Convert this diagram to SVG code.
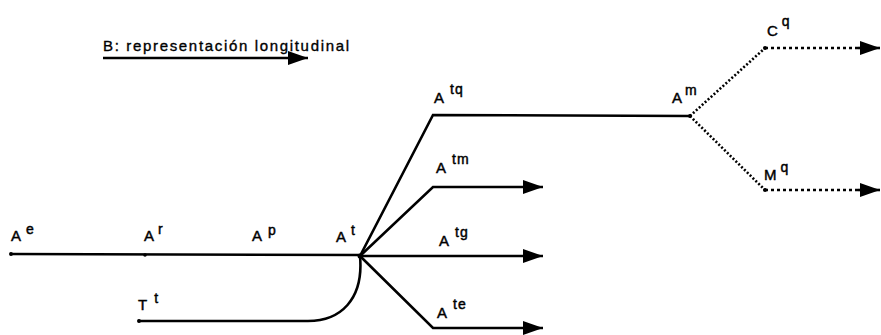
<svg xmlns="http://www.w3.org/2000/svg" width="881" height="335" viewBox="0 0 881 335">
<style>
.lbl{font-family:"Liberation Sans",Arial,sans-serif;font-size:15px;fill:#000;stroke:#000;stroke-width:0.45;}
.sup{font-size:14px;letter-spacing:1px;}
.ttl{font-size:15px;stroke-width:0.35;}
.ln{fill:none;stroke:#000;stroke-width:2.6;stroke-linejoin:miter;}
.dot{fill:none;stroke:#000;stroke-width:2.6;stroke-dasharray:2 2;}
.dash{fill:none;stroke:#000;stroke-width:2.4;stroke-dasharray:3 3;}
.hd{fill:#000;}
.pt{fill:#000;}
</style>
<defs>
<marker id="arr" markerWidth="20" markerHeight="14" refX="20" refY="7" orient="auto" markerUnits="userSpaceOnUse">
<path d="M0,0 L20,7 L0,14 Z" class="hd"/>
</marker>
</defs>
<rect width="881" height="335" fill="#fff"/>
<g id="title">
<text class="lbl ttl" x="103" y="51" textLength="246" lengthAdjust="spacing">B: representación longitudinal</text>
<line x1="103" y1="58" x2="308" y2="58" class="ln" marker-end="url(#arr)"/>
</g>
<g id="connectors">
<line x1="10" y1="254" x2="360" y2="255" class="ln"/>
<path d="M138,321 L308,321 C340,321 364,300 360,256" class="ln"/>
<path d="M360,256 L433,115 L690,116" class="ln"/>
<path d="M360,256 L433,187 L543,187" class="ln" marker-end="url(#arr)"/>
<line x1="360" y1="256" x2="543" y2="256" class="ln" marker-end="url(#arr)"/>
<path d="M360,256 L433,328 L543,328" class="ln" marker-end="url(#arr)"/>
<path d="M690,116 L765,48" class="dot"/>
<path d="M690,116 L765,190" class="dot"/>
<path d="M765,48 L862,48" class="dash"/>
<line x1="858" y1="48" x2="880" y2="48" class="ln" marker-end="url(#arr)"/>
<path d="M765,190 L862,190" class="dash"/>
<line x1="858" y1="190" x2="880" y2="190" class="ln" marker-end="url(#arr)"/>
</g>
<g id="Ae"><circle class="pt" cx="11" cy="254" r="2"/><text class="lbl" x="11" y="241">A<tspan class="sup" dx="5" dy="-7">e</tspan></text></g>
<g id="Ar"><circle class="pt" cx="145" cy="255" r="1.8"/><text class="lbl" x="144" y="241">A<tspan class="sup" dx="4" dy="-7">r</tspan></text></g>
<g id="Ap"><text class="lbl" x="252" y="241">A<tspan class="sup" dx="6" dy="-6">p</tspan></text></g>
<g id="At"><circle class="pt" cx="360" cy="256" r="2.5"/><text class="lbl" x="336" y="242">A<tspan class="sup" dx="5" dy="-7">t</tspan></text></g>
<g id="Tt"><circle class="pt" cx="139" cy="321" r="2"/><text class="lbl" x="138" y="310">T<tspan class="sup" dx="7" dy="-7">t</tspan></text></g>
<g id="Atq"><text class="lbl" x="434" y="103">A<tspan class="sup" dx="6" dy="-9">tq</tspan></text></g>
<g id="Atm"><text class="lbl" x="436" y="173">A<tspan class="sup" dx="6" dy="-9">tm</tspan></text></g>
<g id="Atg"><text class="lbl" x="439" y="246">A<tspan class="sup" dx="6" dy="-9">tg</tspan></text></g>
<g id="Ate"><text class="lbl" x="437" y="318">A<tspan class="sup" dx="6" dy="-9">te</tspan></text></g>
<g id="Am"><circle class="pt" cx="690" cy="116" r="2"/><text class="lbl" x="672" y="103">A<tspan class="sup" dx="3" dy="-8">m</tspan></text></g>
<g id="Cq"><circle class="pt" cx="765" cy="48" r="2"/><text class="lbl" x="767" y="36">C<tspan class="sup" dx="4" dy="-10">q</tspan></text></g>
<g id="Mq"><circle class="pt" cx="765" cy="190" r="2"/><text class="lbl" x="764" y="180">M<tspan class="sup" dx="4" dy="-8">q</tspan></text></g>
</svg>
